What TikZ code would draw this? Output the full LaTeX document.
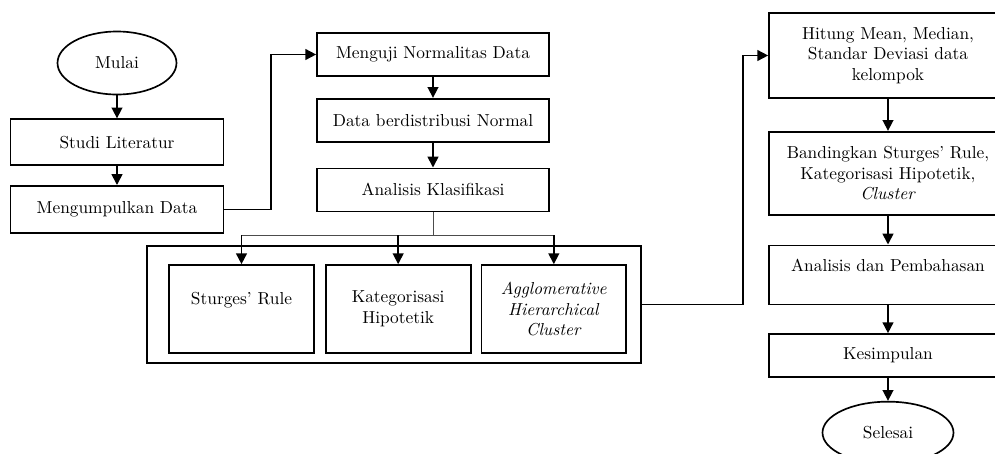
\documentclass[tikz,border=0pt]{standalone}
\usepackage{tikz}
\usetikzlibrary{arrows.meta,calc,positioning,shapes.geometric}

\begin{document}
\begin{tikzpicture}[
      x=0.6pt, y=-0.6pt,
      font=\fontsize{10.4}{12.5}\selectfont,
      term/.style={ellipse,draw,line width=1pt,inner sep=0pt,minimum width=71.4pt,minimum height=37.8pt},
      proc/.style={rectangle,draw,line width=1pt,minimum width=127.8pt,minimum height=27.6pt,align=center},
      mid/.style={proc,minimum width=139.2pt,minimum height=25.8pt},
      side/.style={proc,minimum width=142.8pt},
      kind/.style={proc,minimum width=87pt,minimum height=52.8pt},
      arr/.style={line width=1pt,-{Triangle[length=6.5pt,width=6.5pt]}},
      >=Latex
    ]
    \path[use as bounding box,clip] (0,0) rectangle (995,453);

    % Start and preparation
    \node[term] (mulai) at (117,63) {Mulai};
    \node[proc,below=13.8pt of mulai] (studi) {Studi Literatur};
    \node[proc,below=11.4pt of studi,minimum height=28.2pt] (kumpul) {Mengumpulkan Data};

    \draw[arr] (mulai) -- (studi);
    \draw[arr] (studi) -- (kumpul);

    % Normality test and classification
    \node[mid] (uji) at (433,54.5) {Menguji Normalitas Data};
    \node[mid,below=12.6pt of uji] (normal) {Data berdistribusi Normal};
    \node[mid,below=15pt of normal] (klas) {Analisis Klasifikasi};

    \coordinate (bendA) at (271,0);
    \draw[arr] (kumpul.east) -- (kumpul.east -| bendA) |- (uji.west);
    \draw[arr] (uji) -- (normal);
    \draw[arr] (normal) -- (klas);

    % Three classification methods
    \node[rectangle,draw,line width=1pt,minimum width=296.4pt,minimum height=70.2pt] (metode) at (394,304.5) {};
    \node[kind,text depth=13pt] (sturges) at (241.5,309) {Sturges’ Rule};
    \node[kind,right=6pt of sturges] (hipo) {Kategorisasi\\Hipotetik};
    \node[kind,right=5.4pt of hipo] (agglo) {\textit{Agglomerative}\\\textit{Hierarchical}\\\textit{Cluster}};

    \coordinate (split) at ($(klas.south)+(0,-13.8pt)$);
    \draw[thin,black!70] (klas.south) -- (split);
    \draw[thin,black!70] (sturges.north |- split) -- (agglo.north |- split);
    \draw[arr] (sturges.north |- split) -- (sturges.north);
    \draw[arr] (hipo.north |- split) -- (hipo.north);
    \draw[arr] (agglo.north |- split) -- (agglo.north);

    % Comparison and conclusion
    \node[side,minimum height=51pt] (hitung) at (888,55.5) {Hitung Mean, Median,\\Standar Deviasi data\\kelompok};
    \node[side,below=19.2pt of hitung,minimum height=49.8pt] (banding) {Bandingkan Sturges’ Rule,\\Kategorisasi Hipotetik,\\\textit{Cluster}};
    \node[side,below=17.4pt of banding,minimum height=35.4pt,text depth=12pt] (bahas) {Analisis dan Pembahasan};
    \node[side,below=16.8pt of bahas,minimum height=25.8pt] (simpul) {Kesimpulan};
    \node[term,below=13.8pt of simpul,minimum width=78.6pt,minimum height=37.2pt] (selesai) {Selesai};

    \coordinate (bendB) at (743,0);
    \draw[arr] (metode.east) -- (metode.east -| bendB) |- (hitung.west);
    \draw[arr] (hitung) -- (banding);
    \draw[arr] (banding) -- (bahas);
    \draw[arr] (bahas) -- (simpul);
    \draw[arr] (simpul) -- (selesai);

  \end{tikzpicture}
\end{document}
